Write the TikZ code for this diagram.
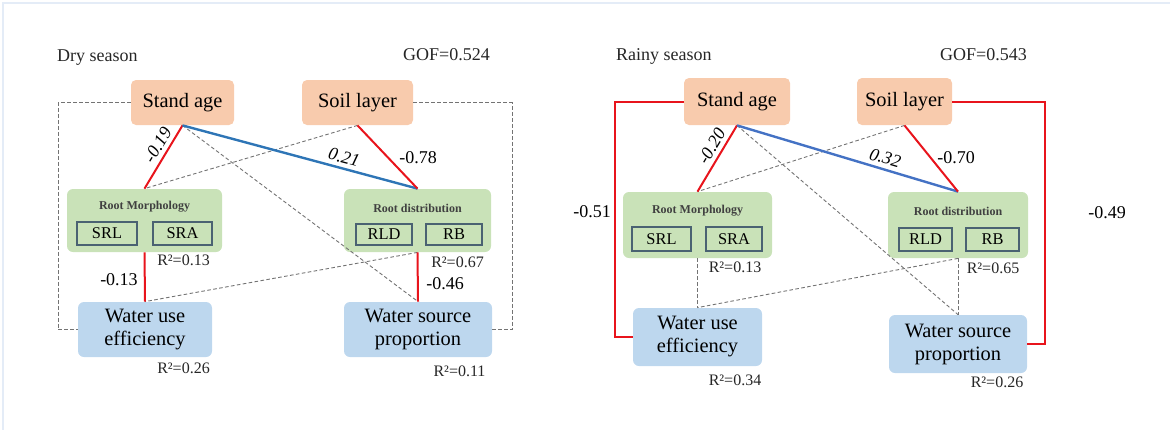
\documentclass[tikz,border=0pt]{standalone}
\usepackage{fontspec}
\setmainfont{Liberation Serif}
\newfontfamily\diagfont{Liberation Serif}
\definecolor{agefill}{HTML}{F8CBAD}
\definecolor{rootfill}{HTML}{C9E2B8}
\definecolor{waterfill}{HTML}{BDD7EE}
\definecolor{itemline}{HTML}{4A6272}
\definecolor{pathred}{HTML}{E8141C}
\definecolor{pathblueD}{HTML}{2E75B6}
\definecolor{pathblueR}{HTML}{4472C4}
\definecolor{framefaint}{HTML}{E4ECF7}
\tikzset{
  every node/.style={font=\diagfont},
  factor/.style={rounded corners=2.5pt, fill=agefill, inner sep=0pt, font=\diagfont\fontsize{10.2}{12}\selectfont},
  rootbox/.style={rounded corners=3pt, fill=rootfill, inner sep=0pt},
  waterbox/.style={rounded corners=3pt, fill=waterfill, inner sep=0pt, align=center, font=\diagfont\fontsize{10.2}{11.5}\selectfont},
  itembox/.style={draw=itemline, line width=0.6pt, inner sep=0pt, font=\diagfont\fontsize{8.2}{9}\selectfont},
  roottitle/.style={font=\diagfont\fontsize{6}{7}\selectfont\bfseries, text=black!75},
  rsq/.style={font=\diagfont\fontsize{8}{9}\selectfont, text=black!85},
  coef/.style={font=\diagfont\fontsize{9}{10}\selectfont, inner sep=1pt},
  slopecoef/.style={font=\diagfont\fontsize{9}{10}\selectfont\itshape, inner sep=2pt, sloped, above},
  heading/.style={font=\diagfont\fontsize{9}{10}\selectfont, text=black!85},
  neg/.style={draw=pathred, line width=1pt},
  nonsig/.style={draw=black!55, line width=0.45pt, dash pattern=on 1.8pt off 1.2pt}
}
\begin{document}
\begin{tikzpicture}[x=0.5pt, y=-0.5pt]
	\useasboundingbox (0, 0) rectangle (1170, 430);
	\draw[framefaint, line width=1pt] (3, 430) -- (3, 3) -- (1170, 3);

	% dry season
	\node[heading, anchor=west] (titleD) at (50, 58) {Dry season};
	\node[heading] (gofD) at (446.5, 55) {GOF=0.524};
	\node[factor, minimum width=51.5pt, minimum height=22.5pt] (ageD) at (182.5, 102.5) {Stand age};
	\node[factor, minimum width=55.5pt, minimum height=22.5pt] (soilD) at (357.5, 102.5) {Soil layer};
	\node[rootbox, minimum width=77.5pt, minimum height=31.5pt] (morphD) at (144.5, 220.5) {};
	\node[rootbox, minimum width=73.5pt, minimum height=31.5pt] (distD) at (417.5, 220.5) {};
	\node[roottitle] (morphtD) at (144.5, 207) {Root Morphology};
	\node[roottitle] (disttD) at (417.5, 208) {Root distribution};
	\node[itembox, minimum width=30pt, minimum height=11.5pt] (srlD) at (107, 233.5) {SRL};
	\node[itembox, minimum width=29.5pt, minimum height=11.5pt] (sraD) at (182.5, 233.5) {SRA};
	\node[itembox, minimum width=28pt, minimum height=10.5pt] (rldD) at (384, 234.5) {RLD};
	\node[itembox, minimum width=28pt, minimum height=10.5pt] (rbD) at (454, 234.5) {RB};
	\node[waterbox, minimum width=67pt, minimum height=27.5pt] (wueD) at (145, 329.5) {Water use\\efficiency};
	\node[waterbox, minimum width=74pt, minimum height=27.5pt] (wspD) at (418, 329.5) {Water source\\proportion};
	\node[rsq] (rmorphD) at (183.5, 260) {R²=0.13};
	\node[rsq] (rdistD) at (457.5, 262) {R²=0.67};
	\node[rsq] (rwueD) at (183.5, 368) {R²=0.26};
	\node[rsq] (rwspD) at (459.5, 371) {R²=0.11};
	\coordinate (leftD) at (58, 0);
	\coordinate (rightD) at (512, 0);

	\draw[nonsig] (ageD.west) -- (ageD.west -| leftD) |- (wueD.west);
	\draw[nonsig] (soilD.east) -- (soilD.east -| rightD) |- (wspD.east);
	\draw[nonsig] (soilD.south) -- (morphD.north);
	\draw[nonsig] (ageD.south) -- (wspD.north);
	\draw[nonsig] (distD.south) -- (wueD.north);
	\draw[neg] (morphD.north) -- node[slopecoef, pos=0.6] {-0.19} (ageD.south);
	\draw[draw=pathblueD, line width=1.2pt] (ageD.south) -- node[slopecoef, pos=0.675] {0.21} (distD.north);
	\draw[neg] (soilD.south) -- (distD.north);
	\draw[neg] (morphD.south) -- (wueD.north);
	\draw[neg] (distD.south) -- (wspD.north);
	\node[coef] (cmsD) at (418, 158) {-0.78};
	\node[coef] (cmwD) at (119, 280) {-0.13};
	\node[coef] (cdwD) at (445, 284) {-0.46};

	% rainy season
	\node[heading, anchor=west] (titleR) at (609, 56) {Rainy season};
	\node[heading] (gofR) at (983.5, 55) {GOF=0.543};
	\node[factor, minimum width=53pt, minimum height=23.5pt] (ageR) at (737, 101.5) {Stand age};
	\node[factor, minimum width=47.5pt, minimum height=23.5pt] (soilR) at (904.5, 101.5) {Soil layer};
	\node[rootbox, minimum width=74.5pt, minimum height=33pt] (morphR) at (697.5, 225) {};
	\node[rootbox, minimum width=70pt, minimum height=33pt] (distR) at (958, 225) {};
	\node[roottitle] (morphtR) at (697.5, 211) {Root Morphology};
	\node[roottitle] (disttR) at (958, 211) {Root distribution};
	\node[itembox, minimum width=29.5pt, minimum height=12pt] (srlR) at (661.5, 239) {SRL};
	\node[itembox, minimum width=28pt, minimum height=12pt] (sraR) at (734, 239) {SRA};
	\node[itembox, minimum width=26.5pt, minimum height=11.5pt] (rldR) at (925.5, 239.5) {RLD};
	\node[itembox, minimum width=26.5pt, minimum height=11.5pt] (rbR) at (992.5, 239.5) {RB};
	\node[waterbox, minimum width=64.5pt, minimum height=29pt] (wueR) at (697.5, 337) {Water use\\efficiency};
	\node[waterbox, minimum width=69pt, minimum height=29pt] (wspR) at (958, 344) {Water source\\proportion};
	\node[rsq] (rmorphR) at (735, 267) {R²=0.13};
	\node[rsq] (rdistR) at (993, 268) {R²=0.65};
	\node[rsq] (rwueR) at (735, 380) {R²=0.34};
	\node[rsq] (rwspR) at (997, 382) {R²=0.26};
	\coordinate (leftR) at (615, 0);
	\coordinate (rightR) at (1045, 0);

	\draw[nonsig] (soilR.south) -- (morphR.north);
	\draw[nonsig] (ageR.south) -- (wspR.north);
	\draw[nonsig] (distR.south) -- (wueR.north);
	\draw[nonsig] (morphR.south) -- (wueR.north);
	\draw[nonsig] (distR.south) -- (wspR.north);
	\draw[neg] (ageR.west) -- (ageR.west -| leftR) |- (wueR.west);
	\draw[neg] (soilR.east) -- (soilR.east -| rightR) |- (wspR.east);
	\draw[neg] (morphR.north) -- node[slopecoef, pos=0.6] {-0.20} (ageR.south);
	\draw[draw=pathblueR, line width=1.2pt] (ageR.south) -- node[slopecoef, pos=0.656] {0.32} (distR.north);
	\draw[neg] (soilR.south) -- (distR.north);
	\node[coef] (cmsR) at (956, 158) {-0.70};
	\node[coef] (cawR) at (592, 212) {-0.51};
	\node[coef] (cswR) at (1107, 213) {-0.49};
\end{tikzpicture}
\end{document}
